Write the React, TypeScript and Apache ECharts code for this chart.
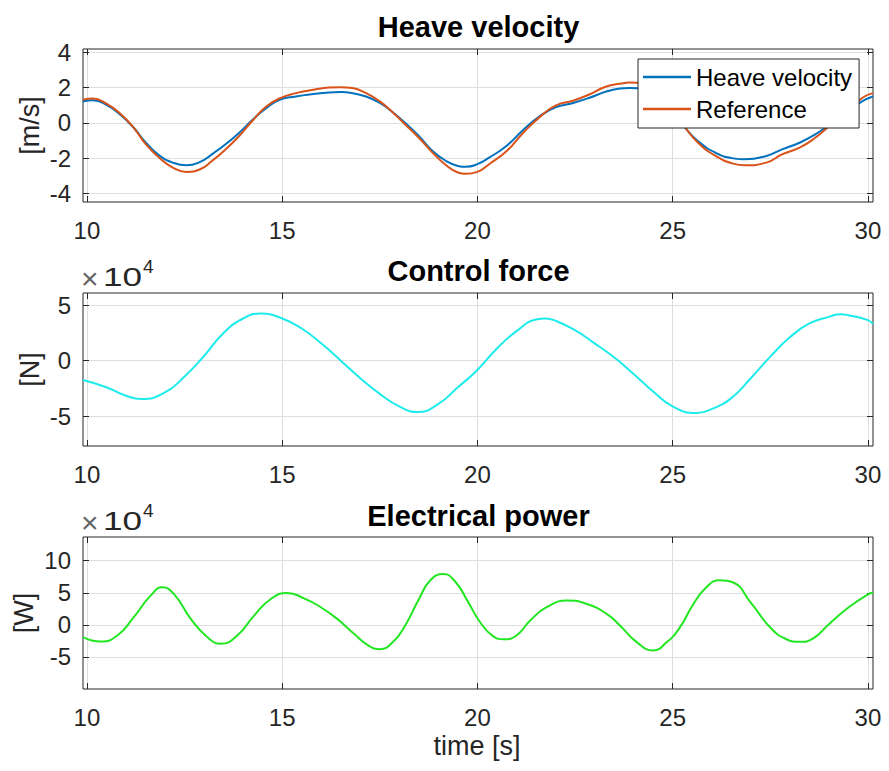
import React, { useEffect, useRef } from "react";
import * as echarts from "echarts";

// ---- data ----
const velTime = [9.9, 10.15, 10.5, 10.85, 11.2, 11.5, 11.85, 12.2, 12.55, 12.9, 13.2, 13.55, 13.9, 14.25, 14.6, 14.95, 15.35, 15.8, 16.2, 16.5, 16.8, 17.15, 17.5, 17.8, 18.15, 18.5, 18.85, 19.2, 19.5, 19.7, 20.0, 20.3, 20.75, 21.15, 21.6, 22.0, 22.45, 22.85, 23.3, 23.65, 23.9, 24.5, 25.0, 25.3, 25.65, 26.1, 26.55, 26.85, 27.4, 27.8, 28.25, 28.65, 29.0, 29.5, 29.85, 30.13];
const heaveVelocity = [1.22, 1.28, 1.03, 0.47, -0.28, -1.1, -1.85, -2.26, -2.41, -2.22, -1.79, -1.22, -0.56, 0.19, 0.85, 1.32, 1.5, 1.64, 1.73, 1.75, 1.69, 1.5, 1.13, 0.66, 0.0, -0.75, -1.6, -2.17, -2.45, -2.5, -2.35, -1.98, -1.3, -0.45, 0.38, 0.88, 1.13, 1.41, 1.78, 1.95, 1.98, 1.6, 0.55, -0.23, -1.04, -1.7, -2.02, -2.07, -1.88, -1.51, -1.13, -0.66, -0.12, 0.65, 1.22, 1.5];
const referenceVelocity = [1.32, 1.39, 1.09, 0.53, -0.28, -1.2, -1.98, -2.54, -2.79, -2.64, -2.17, -1.51, -0.75, 0.15, 0.94, 1.41, 1.69, 1.88, 2.01, 2.03, 1.98, 1.69, 1.22, 0.66, -0.09, -0.85, -1.69, -2.41, -2.82, -2.9, -2.79, -2.35, -1.6, -0.62, 0.34, 0.98, 1.26, 1.6, 2.07, 2.22, 2.29, 1.85, 0.75, -0.2, -1.13, -1.88, -2.32, -2.41, -2.26, -1.79, -1.41, -0.85, -0.2, 0.65, 1.41, 1.69];

const forceTime = [9.9, 10.5, 11.0, 11.4, 12.0, 12.5, 13.0, 13.5, 14.0, 14.45, 15.0, 15.5, 16.0, 16.5, 17.0, 17.5, 18.0, 18.47, 19.0, 19.5, 20.0, 20.5, 21.0, 21.5, 21.75, 22.0, 22.5, 23.0, 23.5, 24.0, 24.5, 25.0, 25.6, 26.0, 26.5, 27.0, 27.5, 28.0, 28.5, 29.0, 29.3, 29.5, 30.0, 30.13];
const controlForce = [-17400, -24000, -31700, -34700, -28700, -14400, 4200, 25000, 38000, 42500, 38000, 29000, 15600, 0, -15900, -30000, -41300, -46400, -39000, -24000, -8400, 11000, 26600, 37100, 38000, 36000, 27500, 15600, 3000, -12000, -27800, -41300, -47300, -43700, -33800, -15900, 3600, 21000, 33500, 39500, 41900, 41000, 36500, 33000];

const powerTime = [9.9, 10.35, 10.78, 11.2, 11.63, 11.93, 12.23, 12.66, 13.08, 13.43, 13.85, 14.28, 14.71, 15.13, 15.56, 15.99, 16.41, 16.84, 17.2, 17.5, 17.85, 18.15, 18.5, 18.8, 19.13, 19.45, 19.75, 20.07, 20.4, 20.68, 21.0, 21.35, 21.77, 22.29, 22.8, 23.31, 23.65, 24.08, 24.5, 24.85, 25.19, 25.5, 25.85, 26.2, 26.55, 27.0, 27.5, 27.9, 28.25, 28.6, 29.0, 29.5, 30.0, 30.13];
const electricalPower = [-19000, -26000, -16600, 12000, 45500, 58500, 48000, 9300, -19000, -29500, -16600, 14400, 40400, 49700, 41400, 27500, 9300, -14000, -32000, -38000, -26000, -1000, 40000, 70000, 79300, 66000, 37000, 4100, -17500, -22500, -16600, 6700, 27500, 37800, 32600, 17100, -1000, -26900, -39900, -26900, -3600, 29500, 58000, 69500, 66000, 34700, -4100, -22000, -26500, -21000, 1000, 27000, 47700, 50000];

const timeTicks = [10, 15, 20, 25, 30];
const velTicks = [-4, -2, 0, 2, 4];
const forceTicks = [-50000, 0, 50000];
const powerTicks = [-50000, 0, 50000, 100000];

const titles = ["Heave velocity", "Control force", "Electrical power"];
const yNames = ["[m/s]", "[N]", "[W]"];
const xName = "time [s]";
const legendNames = ["Heave velocity", "Reference"];

const FONT = "Liberation Sans, Arial, Helvetica, sans-serif";
const AX = "#262626";
const GRIDC = "#dedede";

const zip = (t: number[], v: number[]) => t.map((x, i) => [x, v[i]]);

export default function App() {
  const ref = useRef<HTMLDivElement>(null);
  useEffect(() => {
    if (!ref.current) return;
    const chart = echarts.init(ref.current, null, { renderer: "svg" });

    const grids = [
      { left: 83, top: 49, width: 790, height: 153 },
      { left: 83, top: 293, width: 790, height: 153 },
      { left: 83, top: 537, width: 790, height: 152 },
    ];
    const yRanges = [
      { min: -4.5, max: 4.2, ticks: velTicks, fmt: (v: number) => String(v) },
      { min: -77000, max: 61000, ticks: forceTicks, fmt: (v: number) => String(v / 10000) },
      { min: -100000, max: 137000, ticks: powerTicks, fmt: (v: number) => String(v / 10000) },
    ];

    const xAxes: any[] = [];
    const yAxes: any[] = [];
    grids.forEach((g, i) => {
      xAxes.push({
        type: "value", gridIndex: i, position: "bottom", min: 9.9, max: 30.13,
        axisLine: { show: false, onZero: false },
        axisTick: { show: true, inside: true, length: 6, customValues: timeTicks, lineStyle: { color: AX } },
        axisLabel: { show: true, customValues: timeTicks, margin: 16, fontSize: 24, color: AX, fontFamily: FONT },
        splitLine: { show: true, lineStyle: { color: GRIDC, width: 1 } },
      });
      xAxes.push({
        type: "value", gridIndex: i, position: "top", min: 9.9, max: 30.13,
        axisLine: { show: false, onZero: false },
        axisTick: { show: true, inside: true, length: 6, customValues: timeTicks, lineStyle: { color: AX } },
        axisLabel: { show: false },
        splitLine: { show: false },
      });
      const r = yRanges[i];
      yAxes.push({
        type: "value", gridIndex: i, position: "left", min: r.min, max: r.max,
        axisLine: { show: false, onZero: false },
        axisTick: { show: true, inside: true, length: 6, customValues: r.ticks, lineStyle: { color: AX } },
        axisLabel: { show: true, customValues: r.ticks, margin: 12, fontSize: 24, color: AX, fontFamily: FONT, formatter: r.fmt },
        splitLine: { show: true, lineStyle: { color: GRIDC, width: 1 } },
      });
      yAxes.push({
        type: "value", gridIndex: i, position: "right", min: r.min, max: r.max,
        axisLine: { show: false, onZero: false },
        axisTick: { show: true, inside: true, length: 6, customValues: r.ticks, lineStyle: { color: AX } },
        axisLabel: { show: false },
        splitLine: { show: false },
      });
    });

    const txt = (text: string, x: number, y: number, size: number, extra: any = {}, align = "center") => {
      const { style, ...rest } = extra;
      return {
        type: "text", x, y, silent: true, ...rest,
        style: { text, fontSize: size, fontFamily: FONT, fill: AX, align, verticalAlign: "middle", textAlign: align, textVerticalAlign: "middle", ...(style || {}) },
      };
    };

    const titleY = [26.5, 270.5, 515.5];
    const graphic: any[] = [];
    titles.forEach((t, i) => {
      graphic.push(txt(t, 478.5, titleY[i], 29, { style: { fontWeight: "bold", fill: "#000" } }));
    });
    const nameX = [30, 30, 24];
    yNames.forEach((n, i) => {
      const g = grids[i];
      graphic.push(txt(n, nameX[i], g.top + g.height / 2, 27, { rotation: Math.PI / 2 }));
    });
    graphic.push(txt(xName, 477, 746, 27));
    [293, 537].forEach((top) => {
      graphic.push(txt("\u00d7", 81, top - 15, 30, { style: { fill: "#666", fontWeight: "lighter" } }, "left"));
      graphic.push(txt("10", 103, top - 16, 26, { scaleX: 1.35 }, "left"));
      graphic.push(txt("4", 143, top - 27, 19, {}, "left"));
    });

    const line = (name: string, data: number[][], idx: number, color: string) => ({
      type: "line", name, data, xAxisIndex: idx * 2, yAxisIndex: idx * 2,
      symbol: "none", showSymbol: false, smooth: 0.5, clip: true,
      lineStyle: { color, width: 2 }, itemStyle: { color },
      emphasis: { disabled: true },
    });

    chart.setOption({
      animation: false,
      backgroundColor: "#fff",
      textStyle: { fontFamily: FONT },
      grid: grids.map((g) => ({ ...g, show: true, borderColor: AX, borderWidth: 1, backgroundColor: "transparent", containLabel: false })),
      xAxis: xAxes,
      yAxis: yAxes,
      legend: {
        data: legendNames,
        orient: "vertical",
        left: 638, top: 59,
        padding: [6, 7, 7, 5],
        icon: "rect",
        itemWidth: 48, itemHeight: 2.5, itemGap: 8,
        backgroundColor: "#fff",
        borderColor: AX, borderWidth: 1, borderRadius: 0,
        textStyle: { fontSize: 24, color: "#000", fontFamily: FONT },
        selectedMode: false,
      },
      series: [
        line(legendNames[0], zip(velTime, heaveVelocity), 0, "#0072BD"),
        line(legendNames[1], zip(velTime, referenceVelocity), 0, "#D95319"),
        line("Control force", zip(forceTime, controlForce), 1, "#1EEBEB"),
        line("Electrical power", zip(powerTime, electricalPower), 2, "#22E622"),
      ],
      graphic,
    });
    return () => chart.dispose();
  }, []);
  return <div ref={ref} style={{ position: "fixed", left: 0, top: 0, width: 889, height: 771 }} />;
}
